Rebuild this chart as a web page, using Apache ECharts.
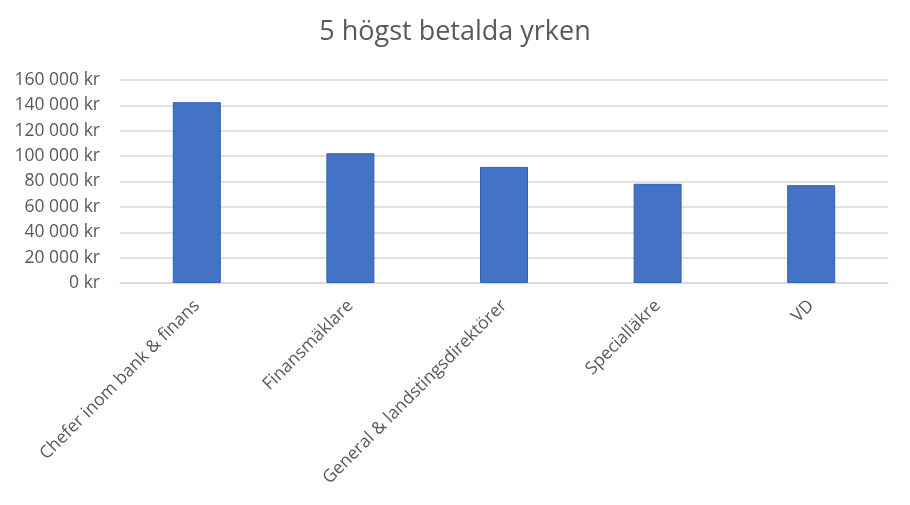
<!DOCTYPE html>
<html><head><meta charset="utf-8">
<script src="https://cdn.jsdelivr.net/npm/echarts@6/dist/echarts.min.js"></script>
<style>html,body{margin:0;padding:0;background:#fff}#c{width:910px;height:505px}</style>
</head><body><div id="c"></div>
<script>
var categories = ["Chefer inom bank & finans", "Finansmäklare", "General & landstingsdirektörer", "Specialläkre", "VD"];
var values = [142500, 102300, 91500, 78200, 77100];
var titleText = "5 högst betalda yrken";

function fmt(v){
  var s = String(Math.round(v));
  return s.replace(/\B(?=(\d{3})+(?!\d))/g, " ") + " kr";
}
var chart = echarts.init(document.getElementById('c'));
chart.setOption({
  animation: false,
  title: { text: titleText, left: 'center', top: 14,
    textStyle: { fontFamily: 'Open Sans', fontSize: 27, fontWeight: 'normal', color: '#595959' } },
  grid: { left: 120, right: 22, top: 80, bottom: 222 },
  xAxis: { type: 'category', data: categories,
    axisLine: { lineStyle: { color: '#d9d9d9', width: 1.5 } },
    axisTick: { show: false },
    axisLabel: { rotate: 45, interval: 0, margin: 20, fontFamily: 'Open Sans', fontSize: 17.5, color: '#595959' } },
  yAxis: { type: 'value', min: 0, max: 160000, interval: 20000,
    axisLine: { show: false }, axisTick: { show: false },
    splitLine: { lineStyle: { color: '#d9d9d9', width: 1.5 } },
    axisLabel: { formatter: fmt, margin: 20, fontFamily: 'Open Sans', fontSize: 17.5, color: '#595959' } },
  series: [{ type: 'bar', data: values, barWidth: 48,
    itemStyle: { color: '#4472c4', borderColor: '#2f62bd', borderWidth: 1 } }]
});
</script></body></html>
